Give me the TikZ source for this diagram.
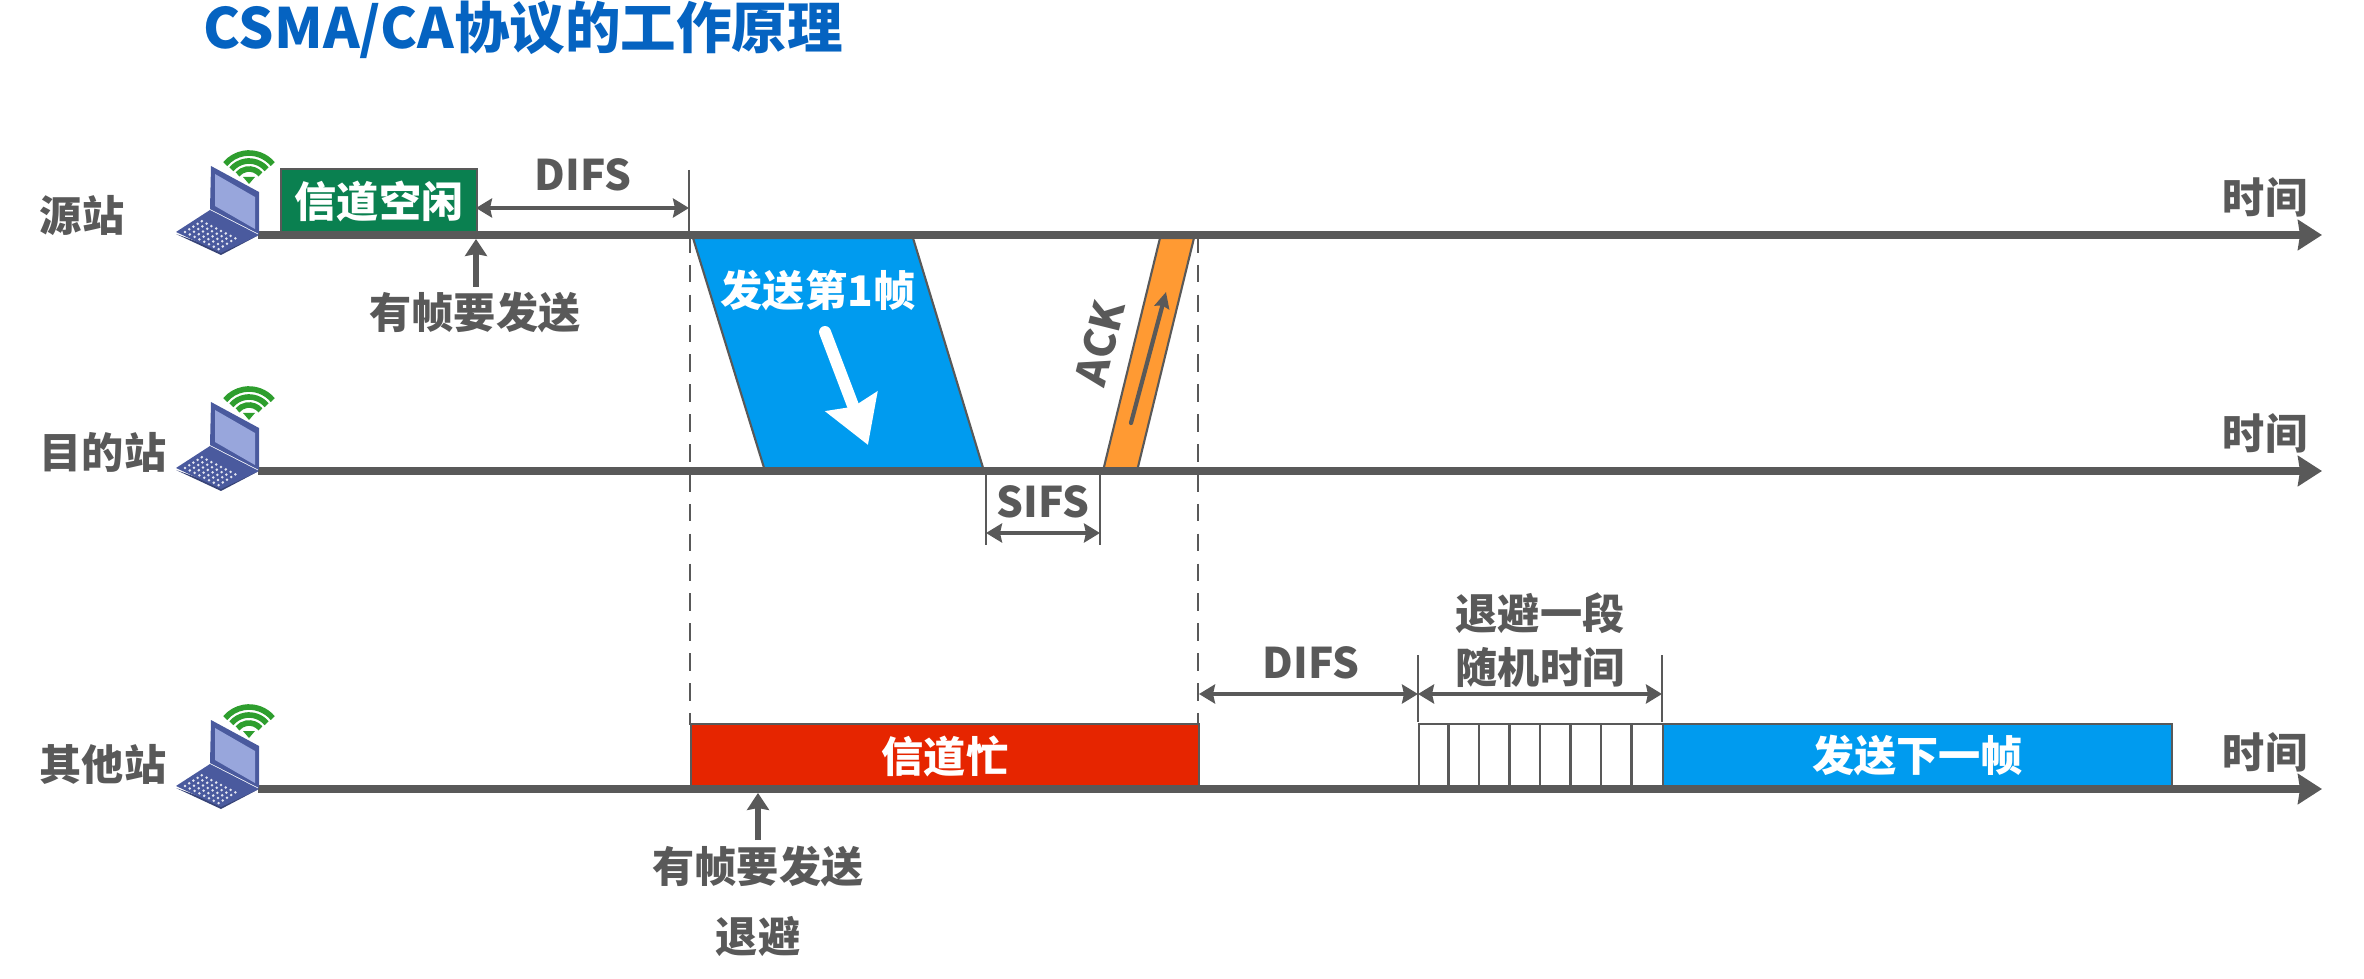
\documentclass[tikz,border=0pt]{standalone}
\usepackage{fontspec}
\setmainfont{Noto Sans CJK SC}
\usepackage{xcolor}
\usetikzlibrary{arrows.meta, calc}
\definecolor{linegray}{HTML}{595959}
\definecolor{titleblue}{HTML}{0563C1}
\definecolor{framegreen}{HTML}{0A8050}
\definecolor{frameblue}{HTML}{009BEF}
\definecolor{framered}{HTML}{E62500}
\definecolor{frameorange}{HTML}{FF9A33}
\definecolor{lapblue}{HTML}{4A5A9E}
\definecolor{lapscreen}{HTML}{98A6DC}
\definecolor{wifigreen}{HTML}{2E9E2E}
\newcommand{\boxtext}[1]{\raisebox{-0.05cm}{#1}}
\tikzset{
    axisline/.style={draw=linegray, line width=2.1pt, -{Stealth[length=2.4mm, width=3.0mm, inset=0.2mm]}},
    dimline/.style={draw=linegray, line width=1.3pt, {Stealth[length=1.6mm, width=1.9mm, inset=0.2mm]}-{Stealth[length=1.6mm, width=1.9mm, inset=0.2mm]}},
    upline/.style={draw=linegray, line width=1.5pt, -{Stealth[length=1.7mm, width=2.2mm, inset=0.2mm]}},
    tickline/.style={draw=linegray, line width=0.6pt},
    dashline/.style={draw=linegray, line width=0.6pt, dash pattern=on 5pt off 3.5pt},
    txtlabel/.style={text=linegray, inner sep=0pt, font=\fontsize{12}{14}\selectfont\bfseries},
    boxlabel/.style={txtlabel, text=white},
    framebox/.style={draw=linegray, line width=0.6pt, inner sep=0pt, anchor=south west, font=\fontsize{12}{14}\selectfont\bfseries, text=white},
    laptop/.pic={
        % lid
        \fill[lapblue] (-.48,.69) -- (0,.43) -- (0,.01) -- (-.49,.26) -- cycle;
        \fill[lapscreen] (-.44,.61) -- (-.04,.38) -- (-.04,.06) -- (-.44,.29) -- cycle;
        % base
        \fill[lapblue!75!black] (-.83,.01) -- (-.38,-.20) -- (0,0) -- (-.38,-.15) -- cycle;
        \fill[lapblue] (-.83,.03) -- (-.49,.25) -- (0,0) -- (-.38,-.18) -- cycle;
        \foreach \i in {0,...,7}
            \foreach \j in {0,...,4}
                \fill[white!85!lapblue] ($(-.74,.03)+\i*(.048,-.0245)+\j*(.042,.027)$) circle (.014);
        % wifi
        \fill[wifigreen] (-.10,.51) -- (-.16,.58) -- (-.04,.58) -- cycle;
        \foreach \rad in {.15,.23,.31}
            \draw[wifigreen, line width=1.6pt] ($(-.10,.51)+(40:\rad)$) arc[start angle=40, end angle=140, radius=\rad];
    },
}
\begin{document}
\begin{tikzpicture}[line join=miter]
\useasboundingbox (0,0) rectangle (23.64,9.78);
% title
\node[anchor=west, inner sep=0pt, text=titleblue, font=\fontsize{15.8}{18}\selectfont\bfseries] (title) at (2.03,9.48) {CSMA/CA协议的工作原理};
% time axes
\coordinate (srcstart) at (2.58,7.43);
\coordinate (srcend) at (23.22,7.43);
\coordinate (dststart) at (2.58,5.07);
\coordinate (dstend) at (23.22,5.07);
\coordinate (othstart) at (2.58,1.89);
\coordinate (othend) at (23.22,1.89);
% dashed guides
\coordinate (guideAtop) at (6.90,7.43);
\coordinate (guideAbot) at (6.90,2.53);
\coordinate (guideBtop) at (11.98,7.43);
\coordinate (guideBbot) at (11.98,2.53);
\draw[dashline] (guideAtop) -- (guideAbot);
\draw[dashline] (guideBtop) -- (guideBbot);
% first frame and ack
\coordinate (framea) at (6.93,7.40);
\coordinate (frameb) at (9.13,7.40);
\coordinate (framec) at (9.84,5.07);
\coordinate (framed) at (7.65,5.07);
\filldraw[draw=linegray, fill=frameblue, line width=0.6pt] (framea) -- (frameb) -- (framec) -- (framed) -- cycle;
\coordinate (acka) at (11.60,7.40);
\coordinate (ackb) at (11.94,7.40);
\coordinate (ackc) at (11.37,5.07);
\coordinate (ackd) at (11.03,5.07);
\filldraw[draw=linegray, fill=frameorange, line width=0.6pt] (acka) -- (ackb) -- (ackc) -- (ackd) -- cycle;
\node[boxlabel] (sendfirst) at (8.18,6.88) {发送第1帧};
\coordinate (whitestart) at (8.25,6.46);
\coordinate (whiteend) at (8.68,5.33);
\draw[white, line width=3.4pt, line cap=round, -{Stealth[length=4.6mm, width=5.4mm, inset=0.5mm]}] (whitestart) -- (whiteend);
\coordinate (ackstart) at (11.31,5.55);
\coordinate (ackend) at (11.66,6.86);
\draw[draw=linegray, line width=1.2pt, line cap=round, -{Stealth[length=1.6mm, width=1.5mm, inset=0.2mm]}] (ackstart) -- (ackend);
\node[txtlabel, rotate=76] (acklabel) at (11.00,6.35) {ACK};
% boxes
\node[framebox, fill=framegreen, minimum width=1.96cm, minimum height=0.65cm] (idle) at (2.80,7.43) {\boxtext{信道空闲}};
\node[framebox, fill=framered, minimum width=5.08cm, minimum height=0.64cm] (busy) at (6.90,1.89) {\boxtext{信道忙}};
\node[framebox, fill=white, minimum width=2.44cm, minimum height=0.64cm] (backoff) at (14.18,1.89) {};
\foreach \i in {1,...,7}
    \draw[tickline] ($(backoff.south west)+(\i*0.305,0)$) -- ($(backoff.north west)+(\i*0.305,0)$);
\node[framebox, fill=frameblue, minimum width=5.09cm, minimum height=0.64cm] (nextframe) at (16.62,1.89) {\boxtext{发送下一帧}};
% axes on top
\draw[axisline] (srcstart) -- (srcend);
\draw[axisline] (dststart) -- (dstend);
\draw[axisline] (othstart) -- (othend);
% stations
\pic at (2.59,7.43) {laptop};
\pic at (2.59,5.07) {laptop};
\pic at (2.59,1.89) {laptop};
\node[txtlabel] (srcname) at (0.82,7.62) {源站};
\node[txtlabel] (dstname) at (1.03,5.26) {目的站};
\node[txtlabel] (othname) at (1.03,2.14) {其他站};
\node[txtlabel] (srctime) at (22.65,7.81) {时间};
\node[txtlabel] (dsttime) at (22.65,5.45) {时间};
\node[txtlabel] (othtime) at (22.65,2.26) {时间};
% DIFS at source
\coordinate (difsatop) at (6.89,8.08);
\coordinate (difsabot) at (6.89,7.43);
\coordinate (difsaleft) at (4.76,7.70);
\coordinate (difsaright) at (6.89,7.70);
\draw[tickline] (difsatop) -- (difsabot);
\draw[dimline] (difsaleft) -- (difsaright);
\node[txtlabel] (difsa) at (5.83,8.03) {DIFS};
\coordinate (senda) at (4.76,6.91);
\coordinate (sendatip) at (4.76,7.39);
\draw[upline] (senda) -- (sendatip);
\node[txtlabel] (wantsend) at (4.75,6.65) {有帧要发送};
% SIFS
\coordinate (sifsa) at (9.86,5.07);
\coordinate (sifsaend) at (9.86,4.33);
\coordinate (sifsb) at (11.00,5.07);
\coordinate (sifsbend) at (11.00,4.33);
\coordinate (sifsl) at (9.86,4.45);
\coordinate (sifsr) at (11.00,4.45);
\draw[tickline] (sifsa) -- (sifsaend);
\draw[tickline] (sifsb) -- (sifsbend);
\draw[dimline] (sifsl) -- (sifsr);
\node[txtlabel] (sifs) at (10.43,4.76) {SIFS};
% other station
\coordinate (sendb) at (7.58,1.38);
\coordinate (sendbtip) at (7.58,1.85);
\draw[upline] (sendb) -- (sendbtip);
\node[txtlabel] (wantsendb) at (7.58,1.11) {有帧要发送};
\node[txtlabel] (backword) at (7.58,0.42) {退避};
% DIFS and backoff
\coordinate (difsbl) at (11.99,2.84);
\coordinate (difsbr) at (14.18,2.84);
\coordinate (backoffr) at (16.62,2.84);
\coordinate (ticka) at (14.18,3.23);
\coordinate (tickaend) at (14.18,2.56);
\coordinate (tickb) at (16.62,3.23);
\coordinate (tickbend) at (16.62,2.56);
\draw[tickline] (ticka) -- (tickaend);
\draw[tickline] (tickb) -- (tickbend);
\draw[dimline] (difsbl) -- (difsbr);
\draw[dimline] (difsbr) -- (backoffr);
\node[txtlabel] (difsb) at (13.11,3.15) {DIFS};
\node[txtlabel] (backa) at (15.40,3.65) {退避一段};
\node[txtlabel] (backb) at (15.40,3.11) {随机时间};
\end{tikzpicture}
\end{document}
